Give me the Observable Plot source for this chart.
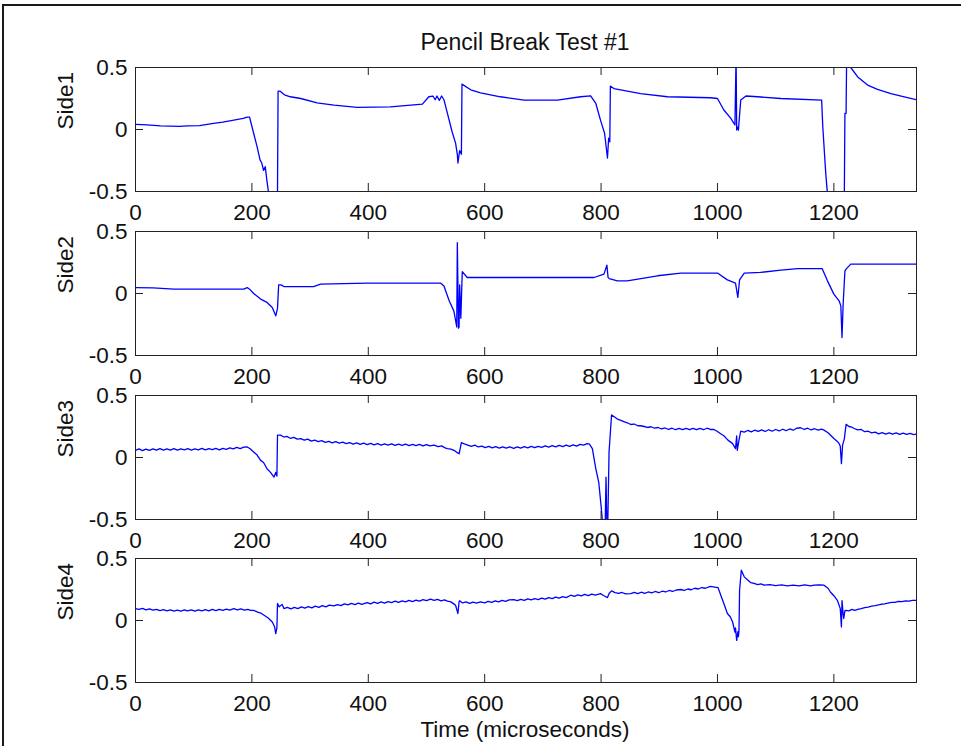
<!DOCTYPE html>
<html>
<head>
<meta charset="utf-8">
<script src="https://cdn.jsdelivr.net/npm/d3@7"></script>
<script src="https://cdn.jsdelivr.net/npm/@observablehq/plot@0.6"></script>
<style>
  html, body { margin: 0; padding: 0; background: #fff; }
  #fig { position: relative; width: 961px; height: 746px; overflow: hidden; background: #fff;
         font-family: "Liberation Sans", Arial, Helvetica, sans-serif; color: #111; }
  #outer { position: absolute; left: 2px; top: 4px; width: 990px; height: 780px;
           border: 2px solid #1a1a1a; box-sizing: border-box; }
  .panel { position: absolute; left: 0; }
  #title { position: absolute; left: 525px; top: 30.5px; transform: translateX(-50%);
           font-size: 23px; line-height: 23px; white-space: nowrap; }
  #xlabel { position: absolute; left: 525px; top: 719px; transform: translateX(-50%);
            font-size: 22.5px; line-height: 22.5px; white-space: nowrap; }
</style>
</head>
<body>
<div id="fig">
  <div id="outer"></div>
  <div id="title"></div>
  <div id="xlabel"></div>
</div>
<script>
// ---------- text ----------
const titleText = "Pencil Break Test #1";
const xLabelText = "Time (microseconds)";
const panelLabels = ["Side1", "Side2", "Side3", "Side4"];

// ---------- ticks ----------
const xTicks = [0, 200, 400, 600, 800, 1000, 1200];
const xTickLabels = ["0", "200", "400", "600", "800", "1000", "1200"];
const yTicks = [-0.5, 0, 0.5];
const yTickLabels = ["-0.5", "0", "0.5"];

// ---------- series (time in microseconds, value) ----------
const side1T = [0,20,43,60,75,89,110,134,150,169,185,192,196,203,209,214,217,220,223,226,229,241,244,245,248,256,266,284,312,341,381,438,493,504,511,515,518,522,526,530,536,544,550,553,554,557,560,561,563,576,593,627,668,725,765,782,791,799,806,811,813,815,816,822,868,914,988,1000,1011,1023,1030,1032,1033,1035,1036,1040,1049,1069,1109,1179,1181,1186,1189,1218,1219,1221,1222,1229,1241,1258,1275,1298,1321,1342];
const side1V = [0.042,0.038,0.03,0.028,0.025,0.03,0.032,0.05,0.06,0.076,0.09,0.10,0.1,-0.03,-0.14,-0.245,-0.27,-0.33,-0.3,-0.42,-0.52,-0.52,-0.52,0.31,0.31,0.28,0.264,0.25,0.215,0.197,0.178,0.183,0.205,0.264,0.27,0.24,0.27,0.235,0.27,0.24,0.13,-0.018,-0.11,-0.2,-0.27,-0.17,-0.2,0.366,0.36,0.32,0.296,0.264,0.237,0.237,0.264,0.272,0.21,0.076,-0.03,-0.23,-0.07,-0.1,0.35,0.33,0.29,0.264,0.256,0.25,0.157,0.09,0.036,0.6,-0.004,0.02,-0.004,0.237,0.27,0.264,0.25,0.237,0.02,-0.35,-0.52,-0.52,0.13,0.13,0.6,0.5,0.424,0.358,0.323,0.29,0.264,0.24];

const side2T = [0,30,66,100,150,186,192,196,203,215,226,235,241,244,246,250,255,306,318,398,524,530,539,547,552,553,555,556,557,559,561.5,570,593,788,805,810,812,814,828,845,897,937,1000,1017,1031,1035,1038,1046,1074,1109,1138,1180,1189,1200,1209,1212,1214,1216,1219,1221,1229,1342];
const side2V = [0.048,0.045,0.035,0.035,0.035,0.035,0.048,0.035,0,-0.045,-0.072,-0.113,-0.18,-0.12,0.07,0.07,0.056,0.056,0.076,0.084,0.084,0.06,-0.059,-0.14,-0.27,0.41,-0.28,-0.27,0.07,-0.2,0.177,0.129,0.129,0.129,0.156,0.229,0.13,0.12,0.102,0.102,0.143,0.165,0.165,0.11,0.084,-0.032,0.11,0.165,0.17,0.189,0.2,0.2,0.102,-0.005,-0.059,-0.1,-0.355,-0.08,0.18,0.197,0.237,0.237];

const side3T = [0,6,12,18,24,30,36,42,48,54,60,66,72,78,84,90,96,102,108,114,120,126,132,138,144,150,156,162,168,174,180,186,192,197,203,209,215,220,226,232,238,241,243,244,249,255,260,266,272,278,284,290,296,302,308,314,320,326,332,338,344,350,356,362,368,374,380,386,392,398,404,410,416,422,428,434,440,446,452,458,464,470,476,482,488,494,500,506,513,520,526,532,536,542,548,553,556,560,565,571,577,583,589,595,601,607,613,619,625,631,637,643,650,656,662,668,674,680,686,692,698,704,710,716,722,728,734,740,746,752,758,764,770,776,780,785,791,796,800,803,807,808.5,810,811.5,813.7,818,822,828,834,839,845,851,857,863,868,874,880,886,892,898,904,910,916,922,928,934,940,946,952,958,964,970,976,982,988,994,1000,1006,1011,1018,1026,1031,1033,1034,1037,1040,1046,1052,1058,1064,1070,1076,1082,1088,1094,1100,1106,1112,1118,1124,1130,1136,1143,1149,1155,1161,1167,1173,1179,1183,1190,1200,1206,1209,1211,1213,1215,1218,1221,1226,1231,1235,1241,1247,1253,1259,1265,1271,1277,1283,1289,1295,1301,1307,1313,1319,1325,1331,1337,1342];
const side3V = [0.058,0.07,0.056,0.068,0.058,0.07,0.06,0.072,0.06,0.07,0.06,0.072,0.06,0.07,0.062,0.072,0.06,0.07,0.062,0.074,0.062,0.072,0.064,0.074,0.062,0.074,0.066,0.078,0.07,0.082,0.072,0.084,0.085,0.07,0.045,0.02,-0.023,-0.04,-0.091,-0.12,-0.158,-0.12,-0.15,0.18,0.18,0.165,0.17,0.155,0.162,0.148,0.152,0.14,0.148,0.132,0.14,0.128,0.136,0.122,0.13,0.118,0.128,0.116,0.124,0.112,0.12,0.108,0.118,0.106,0.116,0.104,0.114,0.102,0.112,0.1,0.11,0.1,0.11,0.098,0.108,0.098,0.108,0.096,0.106,0.096,0.106,0.094,0.104,0.094,0.1,0.088,0.094,0.078,0.072,0.068,0.056,0.039,0.03,0.12,0.11,0.1,0.09,0.1,0.085,0.092,0.08,0.09,0.078,0.088,0.076,0.086,0.076,0.086,0.074,0.086,0.076,0.088,0.078,0.09,0.08,0.09,0.082,0.094,0.084,0.096,0.086,0.098,0.088,0.1,0.09,0.102,0.092,0.106,0.1,0.112,0.108,0.072,-0.091,-0.2,-0.39,-0.55,-0.55,-0.158,-0.55,-0.55,0.045,0.343,0.33,0.31,0.3,0.289,0.28,0.266,0.27,0.256,0.256,0.25,0.242,0.248,0.236,0.242,0.23,0.238,0.226,0.236,0.224,0.234,0.224,0.234,0.224,0.234,0.224,0.234,0.224,0.236,0.226,0.226,0.21,0.19,0.175,0.14,0.112,0.072,0.175,0.058,0.14,0.213,0.205,0.218,0.206,0.22,0.21,0.222,0.21,0.224,0.212,0.226,0.214,0.228,0.216,0.23,0.22,0.236,0.24,0.226,0.236,0.222,0.232,0.22,0.228,0.221,0.2,0.153,0.13,0.112,0.09,-0.05,0.1,0.15,0.267,0.25,0.244,0.234,0.222,0.226,0.208,0.212,0.198,0.204,0.19,0.2,0.188,0.198,0.188,0.198,0.186,0.196,0.186,0.194,0.184,0.19];

const side4T = [0,6,12,18,24,30,36,42,48,54,60,66,72,78,84,89,96,102,108,114,120,126,132,138,144,150,156,162,169,175,181,187,193,198,203,210,215,221,228,235,239,241,243,244,247,252,255,261,267,273,279,285,291,297,303,309,315,321,327,333,341,347,353,359,365,371,377,383,389,398,404,410,416,422,428,434,440,446,452,458,464,470,476,482,488,494,500,507,513,519,525,531,536,542,548,550,554,556,557,562,568,574,580,586,593,600,606,612,618,624,630,636,642,650,656,662,668,674,680,686,692,698,704,710,716,722,728,734,740,748,754,760,766,772,778,784,790,799,805,811,814,818,824,830,836,842,851,857,863,869,875,881,887,893,899,905,911,917,923,929,937,943,949,955,961,967,973,979,988,995,1001,1006,1011,1017,1022,1026,1030,1031,1033,1035,1036,1037,1038,1041,1046,1051,1057,1063,1069,1075,1080,1090,1100,1110,1120,1130,1140,1150,1160,1166,1175,1183,1190,1194,1200,1206,1211,1213,1214,1216,1217,1219,1221,1226,1231,1236,1241,1247,1253,1259,1265,1271,1277,1281,1287,1293,1299,1305,1311,1317,1323,1329,1335,1342];
const side4V = [0.096,0.09,0.098,0.086,0.094,0.084,0.09,0.08,0.088,0.078,0.086,0.076,0.084,0.076,0.086,0.077,0.086,0.076,0.086,0.078,0.088,0.078,0.09,0.08,0.09,0.082,0.092,0.084,0.096,0.086,0.094,0.084,0.09,0.082,0.082,0.068,0.06,0.042,0.02,-0.012,-0.05,-0.106,-0.06,0.137,0.11,0.13,0.096,0.106,0.094,0.106,0.096,0.11,0.1,0.112,0.102,0.116,0.106,0.12,0.11,0.124,0.118,0.128,0.12,0.134,0.126,0.138,0.128,0.14,0.13,0.145,0.134,0.148,0.138,0.15,0.14,0.152,0.144,0.156,0.146,0.158,0.15,0.162,0.152,0.164,0.156,0.168,0.16,0.172,0.162,0.17,0.158,0.166,0.156,0.15,0.13,0.123,0.056,0.15,0.16,0.142,0.15,0.138,0.148,0.14,0.15,0.142,0.154,0.146,0.158,0.15,0.162,0.154,0.166,0.169,0.16,0.17,0.162,0.174,0.166,0.176,0.168,0.18,0.172,0.184,0.176,0.188,0.18,0.192,0.184,0.204,0.194,0.206,0.198,0.21,0.2,0.212,0.204,0.217,0.2,0.185,0.22,0.239,0.225,0.218,0.226,0.214,0.217,0.226,0.216,0.228,0.218,0.23,0.222,0.234,0.224,0.236,0.23,0.242,0.234,0.246,0.25,0.242,0.254,0.248,0.26,0.254,0.266,0.26,0.276,0.27,0.265,0.2,0.137,0.056,0.03,-0.012,-0.093,-0.06,-0.16,-0.09,-0.13,-0.08,0.244,0.406,0.352,0.33,0.306,0.3,0.29,0.296,0.285,0.29,0.282,0.288,0.28,0.286,0.28,0.288,0.28,0.285,0.288,0.285,0.26,0.23,0.2,0.163,0.096,-0.052,0.16,0.05,0.016,0.08,0.082,0.078,0.09,0.082,0.09,0.096,0.104,0.108,0.116,0.12,0.126,0.131,0.134,0.14,0.146,0.146,0.154,0.152,0.158,0.156,0.162,0.163];

const seriesT = [side1T, side2T, side3T, side4T];
const seriesV = [side1V, side2V, side3V, side4V];

// ---------- layout ----------
const W = 961;
const mL = 135, mR = 45, mT = 15, mB = 45;
const frameH = 124;
const panelTops = [67, 231, 394.5, 558];
const plotW = W - mL - mR;
const textColor = "#111";
const axisColor = "#222";
const fontFamily = '"Liberation Sans", Arial, Helvetica, sans-serif';

document.getElementById("title").textContent = titleText;
document.getElementById("xlabel").textContent = xLabelText;

const fig = document.getElementById("fig");

panelLabels.forEach((label, i) => {
  const data = seriesT[i].map((t, j) => ({t, v: seriesV[i][j]}));
  const chart = Plot.plot({
    width: W,
    height: mT + frameH + mB,
    marginLeft: mL,
    marginRight: mR,
    marginTop: mT,
    marginBottom: mB,
    style: {fontFamily, fontSize: "22.5px", color: textColor, background: "transparent", overflow: "visible"},
    x: {domain: [0, 1342]},
    y: {domain: [-0.5, 0.5]},
    marks: [
      Plot.line(data, {x: "t", y: "v", stroke: "#0000ff", strokeWidth: 1.3, clip: true}),
      Plot.frame({stroke: axisColor, strokeWidth: 1}),
      // inward tick marks: bottom, top, left, right
      Plot.ruleX(xTicks, {x: d => d, stroke: axisColor, insetTop: frameH - 8}),
      Plot.ruleX(xTicks, {x: d => d, stroke: axisColor, insetBottom: frameH - 8}),
      Plot.ruleY(yTicks, {y: d => d, stroke: axisColor, insetRight: plotW - 8}),
      Plot.ruleY(yTicks, {y: d => d, stroke: axisColor, insetLeft: plotW - 8}),
      Plot.axisX(xTicks, {anchor: "bottom", tickSize: 0, tickPadding: 13, label: null,
        tickFormat: d => xTickLabels[xTicks.indexOf(d)], fill: textColor, fontSize: 22.5}),
      Plot.axisY(yTicks, {anchor: "left", tickSize: 0, tickPadding: 8, label: null,
        tickFormat: d => yTickLabels[yTicks.indexOf(d)], fill: textColor, fontSize: 22.5}),
      Plot.text([label], {frameAnchor: "left", text: d => d, rotate: -90, dx: -70,
        fill: textColor, fontSize: 22.5})
    ]
  });
  chart.classList.add("panel");
  chart.style.position = "absolute";
  chart.style.left = "0px";
  chart.style.top = (panelTops[i] - mT) + "px";
  fig.appendChild(chart);
});
</script>
</body>
</html>
